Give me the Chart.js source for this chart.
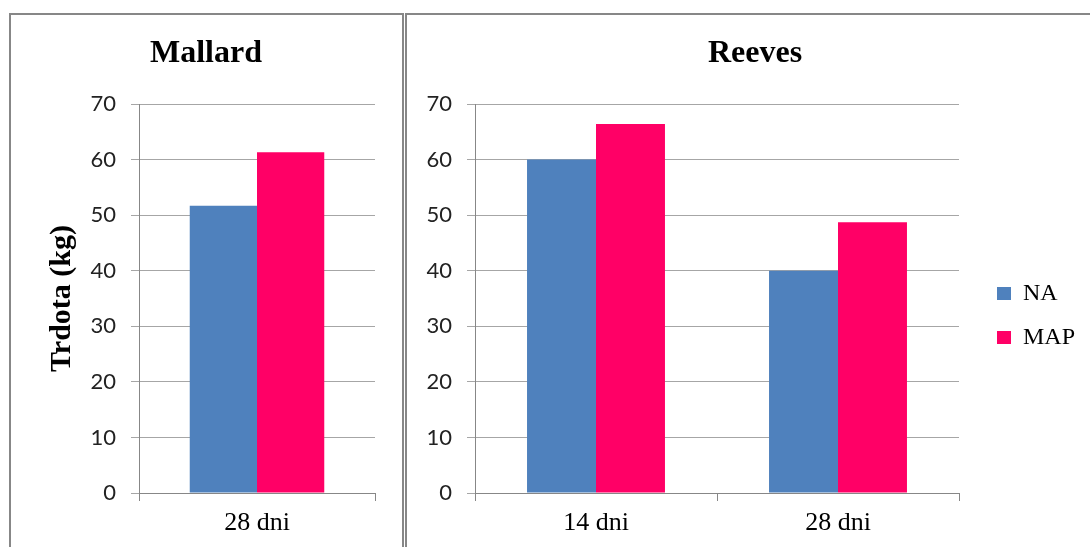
<!DOCTYPE html>
<html>
<head>
<meta charset="utf-8">
<script src="https://cdn.jsdelivr.net/npm/chart.js@4/dist/chart.umd.min.js"></script>
<style>
  html, body { margin: 0; padding: 0; background: #fff; width: 1090px; height: 547px; overflow: hidden; }
  .panel { position: absolute; box-sizing: border-box; border: 2px solid #878787; background: #fff; }
  canvas { position: absolute; }
</style>
</head>
<body>
<div class="panel" style="left:9px; top:13px; width:395px; height:560px;"></div>
<div class="panel" style="left:405px; top:13px; width:700px; height:560px;"></div>
<canvas id="mallard" width="392" height="532" style="left:11px; top:15px;"></canvas>
<canvas id="reeves" width="683" height="532" style="left:407px; top:15px;"></canvas>
<script>
// ---- data ----
const seriesNames = ['NA', 'MAP'];
const seriesColors = ['#4F81BD', '#FF0066'];
const mallardCategories = ['28 dni'];
const mallardNA = [51.7];
const mallardMAP = [61.3];
const reevesCategories = ['14 dni', '28 dni'];
const reevesNA = [60.0, 40.0];
const reevesMAP = [66.4, 48.7];
const yMin = 0, yMax = 70, yStep = 10;
const mallardTitle = 'Mallard';
const reevesTitle = 'Reeves';
const yAxisTitle = 'Trdota (kg)';

const GRID = '#A6A6A6';
const AXIS = '#878787';
const SERIF = "'Liberation Serif', 'Times New Roman', serif";
const SANS = "Lato, 'Open Sans', sans-serif";

function datasets(na, map) {
  return [
    { label: seriesNames[0], data: na, backgroundColor: seriesColors[0], borderWidth: 0,
      categoryPercentage: 0.57, barPercentage: 1.0 },
    { label: seriesNames[1], data: map, backgroundColor: seriesColors[1], borderWidth: 0,
      categoryPercentage: 0.57, barPercentage: 1.0 }
  ];
}

function scales(yWidth, showTitle, titlePad) {
  return {
    x: {
      grid: { display: true, drawOnChartArea: false, drawTicks: true, tickLength: 8, color: AXIS, offset: true },
      border: { display: true, color: AXIS, width: 1 },
      ticks: { color: '#000', padding: 7, font: { family: SERIF, size: 26 } },
      afterFit: s => { s.height = 54; }
    },
    y: {
      min: yMin, max: yMax,
      ticks: { stepSize: yStep, color: '#222', padding: 15, font: { family: SANS, size: 22 } },
      grid: { color: GRID, lineWidth: 1, tickLength: 8, drawTicks: true },
      border: { display: true, color: AXIS, width: 1 },
      title: { display: showTitle, text: yAxisTitle, color: '#000',
               font: { family: SERIF, size: 30, weight: 'bold' }, padding: { top: titlePad, bottom: 0 } },
      afterFit: s => { s.width = yWidth; }
    }
  };
}

function titleOpts(text) {
  return { display: true, text: text, color: '#000',
           font: { family: SERIF, size: 32, weight: 'bold' },
           padding: { top: 19.3, bottom: 31.3 } };
}

new Chart(document.getElementById('mallard'), {
  type: 'bar',
  data: { labels: mallardCategories, datasets: datasets(mallardNA, mallardMAP) },
  options: {
    responsive: false, animation: false,
    layout: { padding: { left: 26, right: 28, top: 0, bottom: 0 } },
    scales: scales(102, true, 7),
    plugins: { legend: { display: false }, title: titleOpts(mallardTitle), tooltip: { enabled: false } }
  }
});

const LEGEND_W = 131, LEGEND_DX = 18, LEGEND_DY = 34.5;
const legendPlace = {
  id: 'legendPlace',
  beforeLayout(chart) {
    const lg = chart.legend;
    if (lg && !lg._fixed) {
      const f = lg.fit;
      lg.fit = function () { f.call(this); this.width = LEGEND_W; };
      lg._fixed = true;
    }
  },
  afterLayout(chart) {
    const lg = chart.legend;
    if (lg) { lg.left += LEGEND_DX; lg.right += LEGEND_DX; lg.top += LEGEND_DY; lg.bottom += LEGEND_DY; }
  }
};

new Chart(document.getElementById('reeves'), {
  type: 'bar',
  data: { labels: reevesCategories, datasets: datasets(reevesNA, reevesMAP) },
  options: {
    responsive: false, animation: false,
    layout: { padding: { left: 13, right: 0, top: 0, bottom: 0 } },
    scales: scales(55, false, 0),
    plugins: {
      legend: { display: true, position: 'right',
        labels: { color: '#000', boxWidth: 14, boxHeight: 13, padding: 20,
                  font: { family: SERIF, size: 24 } } },
      title: titleOpts(reevesTitle),
      tooltip: { enabled: false }
    }
  },
  plugins: [legendPlace]
});
</script>
</body>
</html>
